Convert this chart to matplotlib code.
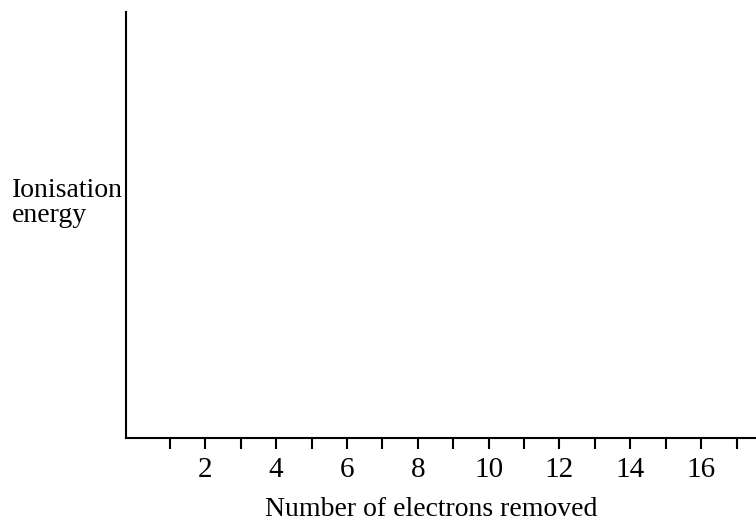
import matplotlib.pyplot as plt

### DATA ###
electrons = list(range(1, 18))
tick_labels = [str(n) if n % 2 == 0 else '' for n in electrons]

plt.rcParams['font.family'] = ['Liberation Serif', 'DejaVu Serif']

### PLOT ###
fig = plt.figure(figsize=(7.56, 5.24), dpi=100)
ax = fig.add_axes([126/756, 86/524, 630/756, 426/524])

ax.set_xlim(-0.24, 17.55)
ax.set_ylim(0, 1)

for side in ['top', 'right']:
    ax.spines[side].set_visible(False)
for side in ['left', 'bottom']:
    ax.spines[side].set_linewidth(1.5)
    ax.spines[side].set_color('black')

ax.set_xticks(electrons)
ax.set_xticklabels(tick_labels, fontsize=21)
ax.tick_params(axis='x', direction='out', length=8, width=1.5, pad=6)
ax.set_yticks([])

fig.text(12/756, 1 - 203/524, 'Ionisation\nenergy', fontsize=20,
         ha='left', va='center', linespacing=1.0)
fig.text(431/756, 1 - 509/524, 'Number of electrons removed', fontsize=20,
         ha='center', va='center')

fig.savefig('out.png', dpi=100)
